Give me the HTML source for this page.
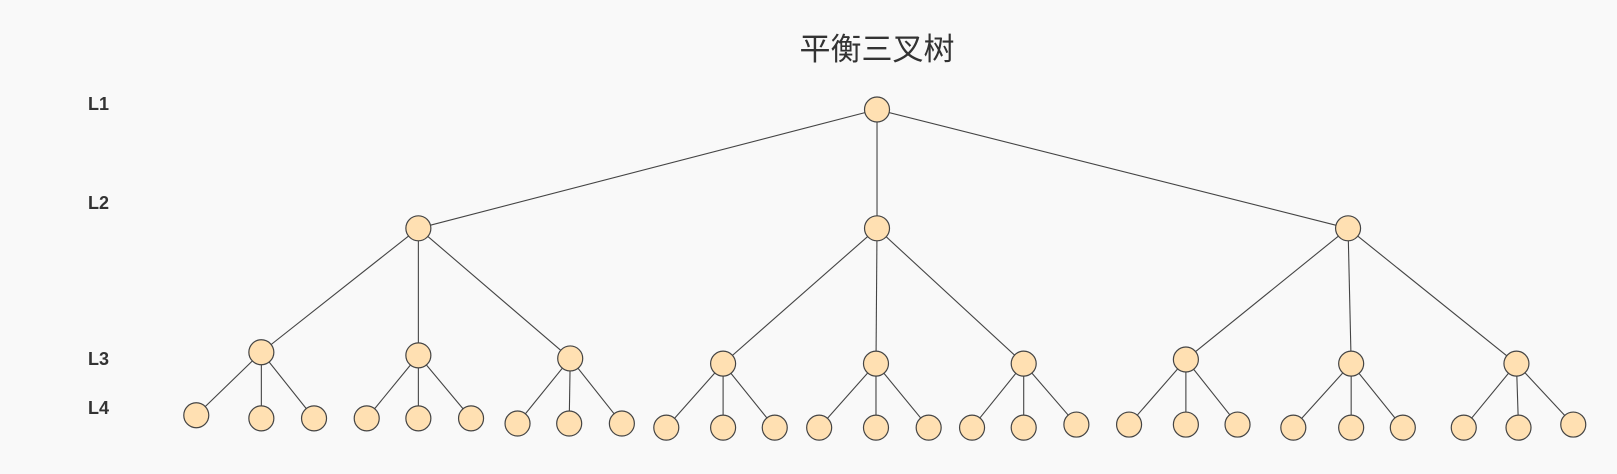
<!DOCTYPE html>
<html><head><meta charset="utf-8"><style>
html,body{margin:0;padding:0;background:#f9f9f9;}
svg{display:block;}
</style></head><body>
<svg width="1617" height="474" viewBox="0 0 1617 474" xmlns="http://www.w3.org/2000/svg">
<rect width="1617" height="474" fill="#f9f9f9"/>
<text x="877" y="60" text-anchor="middle" font-family="Liberation Sans, Noto Sans CJK SC, sans-serif" font-size="31" fill="#333">平衡三叉树</text>
<g font-family="Liberation Sans, sans-serif" font-weight="bold" font-size="18" fill="#333">
<text x="88" y="110">L1</text>
<text x="88" y="209">L2</text>
<text x="88" y="365">L3</text>
<text x="88" y="414">L4</text>
</g>
<g stroke="#444" stroke-width="1.1" fill="none" id="edges"></g>
<g fill="#ffe0b2" stroke="#444" stroke-width="1.2" id="nodes"></g>
<script>
var S=1.033;
var root=[849,106];
var L2=[[405,221],[849,221],[1305,221]];
var L3=[[253,341],[405,344],[552,347],[700,352],[848,352],[991,352],[1148,348],[1308,352],[1468,352]];
var L4=[[190,402],[253,405],[304,405],[355,405],[405,405],[456,405],[501,410],[551,410],[602,410],[645,414],[700,414],[750,414],[793,414],[848,414],[899,414],[941,414],[991,414],[1042,411],[1093,411],[1148,411],[1198,411],[1252,414],[1308,414],[1358,414],[1417,414],[1470,414],[1523,411]];
function sc(p){return [p[0]*S,p[1]*S];}
var E=document.getElementById('edges'),N=document.getElementById('nodes'),ns='http://www.w3.org/2000/svg';
function line(a,b){var l=document.createElementNS(ns,'line');a=sc(a);b=sc(b);l.setAttribute('x1',a[0]);l.setAttribute('y1',a[1]);l.setAttribute('x2',b[0]);l.setAttribute('y2',b[1]);E.appendChild(l);}
function circ(p){var c=document.createElementNS(ns,'circle');p=sc(p);c.setAttribute('cx',p[0]);c.setAttribute('cy',p[1]);c.setAttribute('r',12.5);N.appendChild(c);}
L2.forEach(function(p){line(root,p);});
L3.forEach(function(p,i){line(L2[Math.floor(i/3)],p);});
L4.forEach(function(p,i){line(L3[Math.floor(i/3)],p);});
[root].concat(L2,L3,L4).forEach(circ);
</script>
</svg>
</body></html>
